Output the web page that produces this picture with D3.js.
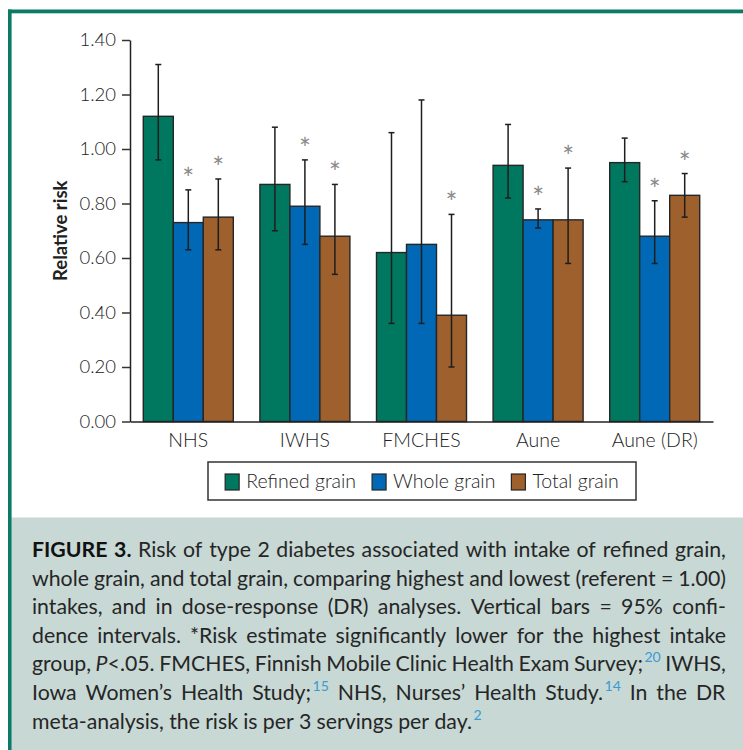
<!DOCTYPE html>
<html>
<head>
<meta charset="utf-8">
<script src="https://cdn.jsdelivr.net/npm/d3@7/dist/d3.min.js"></script>
<style>
  html, body { margin: 0; padding: 0; background: #fff; }
  svg { display: block; }
  text { font-family: Lato, "Open Sans", sans-serif; }
</style>
</head>
<body>
<svg id="fig" width="743" height="750"></svg>
<script>
// ---- data ----
const categories = ["NHS", "IWHS", "FMCHES", "Aune", "Aune (DR)"];
const seriesNames = ["Refined grain", "Whole grain", "Total grain"];
const seriesColors = ["#00775f", "#0068b4", "#9e602d"];

const refinedRR   = [1.12, 0.87, 0.62, 0.94, 0.95];
const refinedLow  = [0.96, 0.70, 0.36, 0.82, 0.88];
const refinedHigh = [1.31, 1.08, 1.06, 1.09, 1.04];
const refinedSig  = [false, false, false, false, false];

const wholeRR   = [0.73, 0.79, 0.65, 0.74, 0.68];
const wholeLow  = [0.63, 0.65, 0.36, 0.71, 0.58];
const wholeHigh = [0.85, 0.96, 1.18, 0.78, 0.81];
const wholeSig  = [true, true, false, true, true];

const totalRR   = [0.75, 0.68, 0.39, 0.74, 0.83];
const totalLow  = [0.63, 0.54, 0.20, 0.58, 0.75];
const totalHigh = [0.89, 0.87, 0.76, 0.93, 0.91];
const totalSig  = [true, true, true, true, true];

const yTicks = [0.00, 0.20, 0.40, 0.60, 0.80, 1.00, 1.20, 1.40];
const yLabel = "Relative risk";

// caption lines; {b:..} bold, {i:..} italic, {s:..} reference superscript
const captionLines = [
  "{b:FIGURE} {b:3.} Risk of type 2 diabetes associated with intake of refined grain,",
  "whole grain, and total grain, comparing highest and lowest (referent = 1.00)",
  "intakes, and in dose-response (DR) analyses. Vertical bars = 95% confi-",
  "dence intervals. *Risk estimate significantly lower for the highest intake",
  "group, {i:P}<.05. FMCHES, Finnish Mobile Clinic Health Exam Survey;{s:20} IWHS,",
  "Iowa Women\u2019s Health Study;{s:15} NHS, Nurses\u2019 Health Study.{s:14} In the DR",
  "meta-analysis, the risk is per 3 servings per day.{s:2}"
];

// ---- assemble rows ----
const series = [
  { name: seriesNames[0], color: seriesColors[0], rr: refinedRR, lo: refinedLow, hi: refinedHigh, sig: refinedSig },
  { name: seriesNames[1], color: seriesColors[1], rr: wholeRR,   lo: wholeLow,   hi: wholeHigh,   sig: wholeSig },
  { name: seriesNames[2], color: seriesColors[2], rr: totalRR,   lo: totalLow,   hi: totalHigh,   sig: totalSig }
];
const rows = [];
categories.forEach((c, i) => series.forEach(s => rows.push({
  cat: c, series: s.name, color: s.color, rr: s.rr[i], lo: s.lo[i], hi: s.hi[i], sig: s.sig[i]
})));

const svg = d3.select("#fig");

// ---- frame ----
const frameColor = "#0b7a66";
svg.append("rect").attr("x", 11.5).attr("y", 517.5).attr("width", 743 - 11.5).attr("height", 750 - 517.5)
  .attr("fill", "#c7d8d5");
svg.append("rect").attr("x", 8).attr("y", 9.5).attr("width", 743 - 8).attr("height", 3.8).attr("fill", frameColor);
svg.append("rect").attr("x", 8).attr("y", 9.5).attr("width", 3.6).attr("height", 750 - 9.5).attr("fill", frameColor);

// ---- scales ----
const plot = { left: 130, right: 713, top: 40, bottom: 421.5 };
const y = d3.scaleLinear().domain([0, 1.4]).range([plot.bottom, plot.top]);
const x0 = d3.scaleBand().domain(categories).range([plot.left, plot.right])
  .paddingInner(0.228).paddingOuter(0.114);
const x1 = d3.scaleBand().domain(seriesNames).range([0, x0.bandwidth()]);

// ---- bars ----
const g = svg.append("g");
g.selectAll("rect.bar").data(rows).join("rect")
  .attr("class", "bar")
  .attr("x", d => x0(d.cat) + x1(d.series))
  .attr("y", d => y(d.rr))
  .attr("width", x1.bandwidth())
  .attr("height", d => y(0) - y(d.rr))
  .attr("fill", d => d.color)
  .attr("stroke", "#262626")
  .attr("stroke-width", 1.4);

// ---- confidence intervals ----
const cx = d => x0(d.cat) + x1(d.series) + x1.bandwidth() / 2;
const capW = 3;
const eb = g.selectAll("g.err").data(rows).join("g").attr("class", "err")
  .attr("stroke", "#1e1e1e").attr("stroke-width", 1.5);
eb.append("line").attr("x1", cx).attr("x2", cx).attr("y1", d => y(d.lo)).attr("y2", d => y(d.hi));
eb.append("line").attr("x1", d => cx(d) - capW).attr("x2", d => cx(d) + capW)
  .attr("y1", d => y(d.hi)).attr("y2", d => y(d.hi));
eb.append("line").attr("x1", d => cx(d) - capW).attr("x2", d => cx(d) + capW)
  .attr("y1", d => y(d.lo)).attr("y2", d => y(d.lo));

// ---- significance marks ----
g.selectAll("text.sig").data(rows.filter(d => d.sig)).join("text")
  .attr("class", "sig")
  .attr("x", cx)
  .attr("y", d => y(d.hi) - 1)
  .attr("text-anchor", "middle")
  .attr("font-size", 28)
  .attr("fill", "#8a8a8a")
  .text("*");

// ---- axes ----
const yAxis = svg.append("g").attr("transform", `translate(${plot.left},0)`)
  .call(d3.axisLeft(y).tickValues(yTicks).tickFormat(d3.format(".2f")).tickSize(8).tickSizeOuter(0).tickPadding(6));
yAxis.select(".domain").attr("stroke", "#222").attr("stroke-width", 1.5);
yAxis.selectAll(".tick line").attr("stroke", "#333").attr("stroke-width", 1.5);
yAxis.selectAll(".tick text").attr("font-family", "Lato").attr("font-size", 18.5)
  .attr("font-weight", 300).attr("fill", "#222");

const xAxis = svg.append("g").attr("transform", `translate(0,${plot.bottom})`)
  .call(d3.axisBottom(x0).tickSize(0).tickSizeOuter(0).tickPadding(12));
xAxis.select(".domain").attr("stroke", "#222").attr("stroke-width", 1.5);
xAxis.selectAll(".tick text").attr("font-family", "Lato").attr("font-size", 19.5)
  .attr("font-weight", 300).attr("fill", "#222");

svg.append("text")
  .attr("transform", `translate(67,${(plot.top + plot.bottom) / 2})rotate(-90)`)
  .attr("text-anchor", "middle")
  .attr("font-size", 18.5).attr("font-weight", 700).attr("fill", "#222")
  .text(yLabel);

// ---- legend ----
const legendBox = { x: 208, y: 462, w: 428, h: 38 };
svg.append("rect").attr("x", legendBox.x).attr("y", legendBox.y)
  .attr("width", legendBox.w).attr("height", legendBox.h)
  .attr("fill", "#fff").attr("stroke", "#333").attr("stroke-width", 1.5);
const lg = svg.append("g");
const items = lg.selectAll("g").data(series).join("g");
items.append("rect").attr("width", 14).attr("height", 16).attr("y", -14)
  .attr("fill", d => d.color).attr("stroke", "#262626").attr("stroke-width", 1.2);
items.append("text").attr("x", 21).attr("y", 0).attr("font-size", 19.5).attr("font-weight", 300)
  .attr("fill", "#222").text(d => d.name);
const itemW = [];
items.each(function () { itemW.push(this.getBBox().width); });
const gap = 16;
const totalW = d3.sum(itemW) + gap * (itemW.length - 1);
let lx = legendBox.x + (legendBox.w - totalW) / 2;
items.attr("transform", (d, i) => {
  const t = `translate(${lx},${legendBox.y + 26})`;
  lx += itemW[i] + gap;
  return t;
});

// ---- caption (justified) ----
function parseWord(w) {
  const pieces = [];
  const re = /\{b:(.+?)\}|\{i:(.+?)\}|\{s:(.+?)\}|([^{]+)/g;
  let m;
  while ((m = re.exec(w)) !== null) {
    if (m[1]) pieces.push([m[1], "b"]);
    else if (m[2]) pieces.push([m[2], "i"]);
    else if (m[3]) pieces.push([m[3], "sup"]);
    else pieces.push([m[4], ""]);
  }
  return pieces;
}
const cap = { left: 32, right: 726, base: 557, lead: 28.6, fs: 21.5, minGap: 4.5 };
const capG = svg.append("g");
const lineData = captionLines.map((line, li) => {
  const nodes = line.split(" ").map(w => {
    const t = capG.append("text").attr("font-size", cap.fs).attr("fill", "#262626");
    parseWord(w).forEach(([txt, st]) => {
      const sp = t.append("tspan").text(txt);
      if (st === "b") sp.attr("font-weight", 700).attr("fill", "#111");
      if (st === "i") sp.attr("font-style", "italic");
      if (st === "sup") sp.attr("font-size", cap.fs * 0.66).attr("dy", -cap.fs * 0.42)
        .attr("fill", "#3d9ad1").attr("dx", 1.5);
    });
    return t;
  });
  return { li, nodes, widths: nodes.map(n => n.node().getBBox().width) };
});
// horizontal squeeze so the widest justified line still fits
const avail = cap.right - cap.left;
const sx = Math.min(1, d3.min(lineData.slice(0, -1), L =>
  (avail - cap.minGap * (L.nodes.length - 1)) / d3.sum(L.widths)));
lineData.forEach(L => {
  const last = L.li === lineData.length - 1;
  const w = L.widths.map(v => v * sx);
  const gp = last ? cap.fs * 0.24 : (avail - d3.sum(w)) / (L.nodes.length - 1);
  let xx = cap.left;
  L.nodes.forEach((n, i) => {
    n.attr("transform", `translate(${xx},${cap.base + L.li * cap.lead})scale(${sx},1)`);
    xx += w[i] + gp;
  });
});
</script>
</body>
</html>
